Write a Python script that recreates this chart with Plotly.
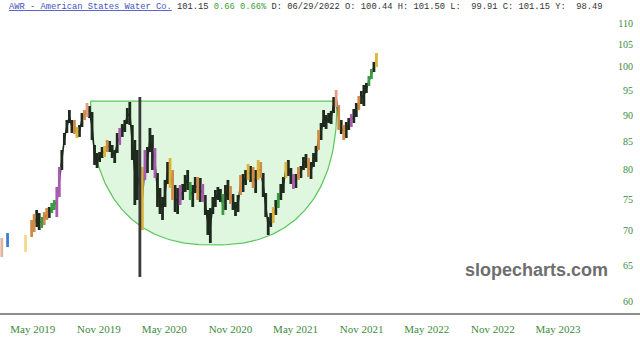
import numpy as np
import pandas as pd
import plotly.graph_objects as go

# ---------------- data ----------------
week_start = "2019-04-28"  # first weekly bar
highs = [71.68, 72.62, 73.26, 72.78, 72.15, 72.94, 73.58, 73.74, 74.38, 74.87,
         77.01, 80.44, 83.46, 86.61, 89.08, 91.04, 89.08, 89.08, 87.74, 88.12,
         90.45, 91.04, 92.44, 91.84, 90.65, 84.38, 82.92, 83.10, 84.01, 84.19,
         85.30, 85.11, 84.38, 83.46, 86.61, 87.55, 88.31, 89.08, 91.44, 92.64,
         88.12, 85.30, 83.46, 93.66, 80.44, 83.46, 84.01, 87.55, 86.23, 83.83,
         79.39, 76.85, 75.36, 78.20, 81.31, 82.02, 79.91, 77.35, 76.85, 77.35,
         77.52, 79.05, 79.91, 77.86, 77.35, 78.71, 78.71, 78.54, 77.52, 75.68,
         73.26, 73.58, 75.36, 76.51, 77.01, 76.68, 75.85, 77.35, 78.20, 77.18,
         75.85, 74.54, 75.68, 79.05, 79.22, 79.91, 80.96, 80.61, 80.44, 79.91,
         81.67, 81.31, 79.39, 76.01, 72.15, 72.78, 73.74, 74.87, 76.01, 77.52,
         78.71, 81.31, 81.67, 80.26, 79.22, 79.22, 80.44, 80.61, 82.20, 82.74,
         82.02, 81.31, 82.92, 84.19, 87.17, 88.51, 91.04, 90.06, 90.45, 90.85,
         93.66, 95.09, 92.04, 89.08, 88.12, 88.70, 89.47, 90.25, 91.24, 92.44,
         93.86, 94.89, 96.13, 96.55, 98.03, 99.53, 101.06, 103.05]
lows = [69.08, 69.83, 70.60, 70.14, 70.45, 70.91, 71.68, 72.00, 72.78, 73.26,
        72.15, 75.36, 79.91, 84.38, 86.61, 88.51, 86.61, 86.42, 85.67, 85.86,
        87.74, 89.08, 89.67, 89.47, 85.30, 80.79, 80.26, 81.31, 82.02, 82.20,
        83.10, 83.10, 82.02, 81.14, 82.92, 84.38, 85.86, 86.79, 88.31, 88.12,
        81.67, 74.06, 74.87, 63.33, 70.14, 78.20, 79.39, 83.10, 79.91, 78.54,
        73.74, 72.62, 71.68, 73.74, 77.52, 76.85, 74.87, 72.94, 72.62, 74.06,
        74.87, 76.18, 76.51, 74.87, 73.74, 76.01, 74.87, 74.54, 74.54, 72.47,
        69.38, 68.18, 72.62, 73.74, 74.87, 74.54, 72.47, 73.26, 74.87, 74.22,
        73.26, 72.31, 72.94, 75.68, 76.18, 77.35, 78.20, 77.86, 76.85, 76.01,
        78.20, 78.54, 75.36, 72.15, 69.38, 70.60, 71.21, 72.47, 73.58, 74.87,
        76.01, 78.54, 78.88, 77.52, 76.68, 76.85, 78.20, 78.54, 79.91, 80.26,
        78.71, 78.37, 80.44, 81.31, 83.46, 85.30, 87.74, 87.36, 88.51, 88.31,
        90.45, 91.64, 87.17, 86.42, 85.30, 85.67, 87.17, 87.74, 88.51, 89.67,
        91.04, 92.24, 91.84, 94.47, 95.92, 97.40, 98.89, 99.97]
color_codes = list("OOKKGOOKGG" "PPKKKKKOYK" "KOSKKKKKKY" "OKKKKPKKKK"
                   "KKKHYPKKKP" "KKKKKYOKKP" "KKKGKKOKPK" "KKKKKKGKKO"
                   "KKKOKKYKOK" "YOKKKKYKGK" "KYKKPKOKKK" "OKKKOKKKKK"
                   "KSOKOKKPKK" "OKKKGGKY")

early_dates = ["2019-02-04", "2019-02-20", "2019-04-11"]
early_highs = [68.93, 69.68, 69.38]
early_lows = [66.13, 67.59, 66.87]
early_codes = ["L", "B", "W"]

cup_start = "2019-10-09"
cup_end = "2021-08-24"
cup_rim = 92.8
cup_bottom = 67.9
cup_exponent = 2.4

tick_dates = ["2019-05-01", "2019-11-01", "2020-05-01", "2020-11-01", "2021-05-01",
              "2021-11-01", "2022-05-01", "2022-11-01", "2023-05-01"]
tick_labels = ["May 2019", "Nov 2019", "May 2020", "Nov 2020", "May 2021",
               "Nov 2021", "May 2022", "Nov 2022", "May 2023"]
price_ticks = [60, 65, 70, 75, 80, 85, 90, 95, 100, 105, 110]

header_ticker = "AWR - American States Water Co."
header_last = "101.15"
header_change = "0.66 0.66%"
header_rest = "D: 06/29/2022 O: 100.44 H: 101.50 L:\u00a0\u00a099.91 C: 101.15 Y:\u00a0\u00a098.49"
watermark = "slopecharts.com"

# ---------------- styles ----------------
palette = {"K": "#1d2a1d", "O": "#cf8a45", "Y": "#dcb43c", "P": "#a85cb0",
           "G": "#3d9a43", "S": "#e69c82", "H": "#3a3a3a",
           "L": "#e2b49a", "B": "#3f7fd6", "W": "#f2d98e"}

fig = go.Figure()

# cup shape (superellipse in date / log-price space), drawn first so bars sit on top
t = np.linspace(np.pi, 0, 161)
c, s = np.cos(t), np.sin(t)
fx = np.sign(c) * np.abs(c) ** (2 / cup_exponent)
fy = np.abs(s) ** (2 / cup_exponent)
t0, t1 = pd.Timestamp(cup_start), pd.Timestamp(cup_end)
mid, half = t0 + (t1 - t0) / 2, (t1 - t0) / 2
cup_x = [mid + half * float(v) for v in fx]
cup_y = list(np.exp(np.log(cup_rim) - (np.log(cup_rim) - np.log(cup_bottom)) * fy))
cup_x.append(cup_x[0])
cup_y.append(cup_y[0])
fig.add_trace(go.Scatter(x=cup_x, y=cup_y, mode="lines", fill="toself",
                         fillcolor="#dff6df", line=dict(color="#5cc65c", width=1.2),
                         hoverinfo="skip"))

dates = list(pd.date_range(week_start, periods=len(highs), freq="7D"))

# thin dark path joining the weekly ranges (mid of each range)
mids = list(np.sqrt(np.array(highs) * np.array(lows)))
fig.add_trace(go.Scatter(x=dates, y=mids, mode="lines",
                         line=dict(color="#1d2a1d", width=1.6), hoverinfo="skip"))

# range bars as vertical segments, one trace per colour
all_dates = list(pd.to_datetime(early_dates)) + dates
all_highs = early_highs + highs
all_lows = early_lows + lows
all_codes = early_codes + color_codes
for code in palette:
    xs, ys = [], []
    for d, lo, hi, cc in zip(all_dates, all_lows, all_highs, all_codes):
        if cc == code:
            xs += [d, d, None]
            ys += [lo, hi, None]
    if xs:
        fig.add_trace(go.Scatter(x=xs, y=ys, mode="lines",
                                 line=dict(color=palette[code], width=2.8),
                                 hoverinfo="skip"))

fig.update_layout(
    width=640, height=345,
    margin=dict(l=0, r=0, t=16, b=32),
    paper_bgcolor="white", plot_bgcolor="white",
    showlegend=False,
    xaxis=dict(type="date", range=["2019-01-30", "2023-12-15"],
               tickvals=tick_dates, ticktext=tick_labels, ticks="",
               showgrid=False, zeroline=False, showline=True,
               linecolor="#8c8c8c", linewidth=2,
               tickfont=dict(family="Liberation Serif", size=11, color="#3d8b3d"),
               ticklabelstandoff=5),
    yaxis=dict(type="log", range=[1.76761, 2.04800], side="right",
               tickvals=price_ticks, ticktext=[str(v) for v in price_ticks],
               ticks="", ticklabelposition="inside", ticklabelstandoff=4,
               showgrid=False, zeroline=False, showline=False,
               tickfont=dict(family="Liberation Serif", size=10, color="#3d8b3d")),
)

header = (f"<span style='color:#4452c4;text-decoration:underline'>{header_ticker}</span> "
          f"<span style='color:#333333'>{header_last}</span> "
          f"<span style='color:#3aa03a'>{header_change}</span> "
          f"<span style='color:#333333'>{header_rest}</span>")
fig.add_annotation(xref="paper", yref="paper", x=0, y=1 + 9 / 297, xshift=7,
                   xanchor="left", yanchor="middle", showarrow=False, text=header,
                   font=dict(family="Liberation Mono", size=8.75, color="#333333"))
fig.add_annotation(xref="paper", yref="paper", x=536 / 640, y=43 / 297,
                   xanchor="center", yanchor="middle", showarrow=False,
                   text=f"<b>{watermark}</b>",
                   font=dict(family="Liberation Sans", size=18, color="#6e6e6e"))

fig.write_html("out.html")
